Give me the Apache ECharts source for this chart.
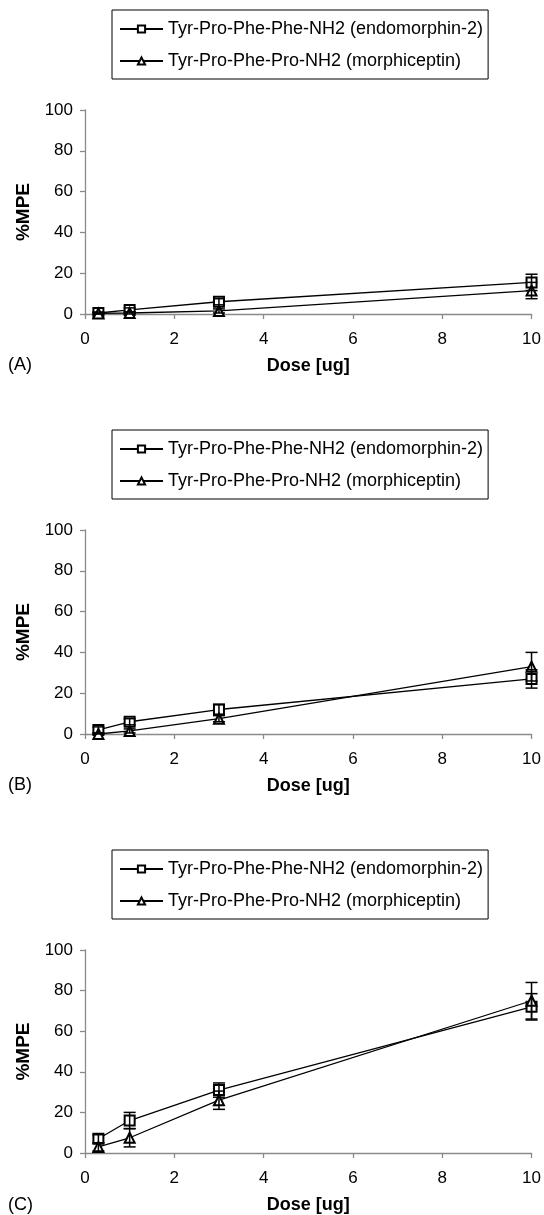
<!DOCTYPE html>
<html>
<head>
<meta charset="utf-8">
<script src="https://cdn.jsdelivr.net/npm/echarts@6/dist/echarts.min.js"></script>
<style>
  html, body { margin: 0; padding: 0; background: #fff; }
  #chart { width: 544px; height: 1215px; }
</style>
</head>
<body>
<div id="chart"></div>
<script>
// doses (x) shared by every panel
const doses = [0.3, 1, 3, 10]
const xTicks = [0, 2, 4, 6, 8, 10]
const yTicks = [0, 20, 40, 60, 80, 100]
const seriesNames = ['Tyr-Pro-Phe-Phe-NH2 (endomorphin-2)', 'Tyr-Pro-Phe-Pro-NH2 (morphiceptin)']
const panelLabels = ['(A)', '(B)', '(C)']

// panel A
const endoA = [0.5, 2, 6, 15.5]
const endoAErr = [0.5, 1, 1.5, 4]
const morphA = [0.3, 0.5, 1.5, 11.5]
const morphAErr = [0.3, 0.5, 1, 4]
// panel B
const endoB = [2, 6, 12, 27]
const endoBErr = [1.5, 1.5, 2.5, 4.5]
const morphB = [0, 1.5, 7.5, 33]
const morphBErr = [0.5, 1, 1.5, 7]
// panel C
const endoC = [7, 16, 31, 72]
const endoCErr = [2, 4, 3.5, 6.5]
const morphC = [3, 7.5, 26, 75]
const morphCErr = [2, 4.5, 4.5, 9]

const panels = [
  { endo: endoA, endoErr: endoAErr, morph: morphA, morphErr: morphAErr },
  { endo: endoB, endoErr: endoBErr, morph: morphB, morphErr: morphBErr },
  { endo: endoC, endoErr: endoCErr, morph: morphC, morphErr: morphCErr }
]

const font = 'Liberation Sans, Arial, sans-serif'
const axisGray = '#8a8a8a'
const step = 420 // vertical offset between panels

function errorBars(vals, errs, idx) {
  return {
    type: 'custom',
    xAxisIndex: idx,
    yAxisIndex: idx,
    z: 4,
    silent: true,
    data: doses.map((d, i) => [d, vals[i], errs[i]]),
    renderItem(params, api) {
      const x = api.value(0)
      const y = api.value(1)
      const e = api.value(2)
      const top = api.coord([x, y + e])
      const bot = api.coord([x, Math.max(y - e, 0)])
      const hw = 6
      const style = { stroke: '#000', lineWidth: 1.5 }
      return {
        type: 'group',
        children: [
          { type: 'line', shape: { x1: top[0], y1: top[1], x2: bot[0], y2: bot[1] }, style },
          { type: 'line', shape: { x1: top[0] - hw, y1: top[1], x2: top[0] + hw, y2: top[1] }, style },
          { type: 'line', shape: { x1: bot[0] - hw, y1: bot[1], x2: bot[0] + hw, y2: bot[1] }, style }
        ]
      }
    }
  }
}

const grid = []
const xAxis = []
const yAxis = []
const legend = []
const series = []
const graphic = []

panels.forEach((p, idx) => {
  const off = idx * step
  grid.push({ left: 85, width: 447, top: 110 + off, height: 204 })
  xAxis.push({
    gridIndex: idx,
    type: 'value',
    min: xTicks[0],
    max: xTicks[xTicks.length - 1],
    interval: 2,
    name: 'Dose [ug]',
    nameLocation: 'middle',
    nameGap: 43,
    nameTextStyle: { fontFamily: font, fontSize: 18, fontWeight: 'bold', color: '#000' },
    axisLine: { lineStyle: { color: axisGray, width: 1.3 } },
    axisTick: { length: 5, lineStyle: { color: axisGray, width: 1.3 } },
    axisLabel: { margin: 17, fontFamily: font, fontSize: 17, color: '#000' },
    splitLine: { show: false }
  })
  yAxis.push({
    gridIndex: idx,
    type: 'value',
    min: yTicks[0],
    max: yTicks[yTicks.length - 1],
    interval: 20,
    name: '%MPE',
    nameLocation: 'middle',
    nameGap: 51,
    nameTextStyle: { fontFamily: font, fontSize: 19, fontWeight: 'bold', color: '#000' },
    axisLine: { show: true, lineStyle: { color: axisGray, width: 1.3 } },
    axisTick: { show: true, length: 5, lineStyle: { color: axisGray, width: 1.3 } },
    axisLabel: { margin: 12, fontFamily: font, fontSize: 17, color: '#000' },
    splitLine: { show: false }
  })
  legend.push({
    data: seriesNames,
    orient: 'vertical',
    left: 112,
    top: 10 + off,
    padding: [10, 5, 9, 7],
    itemGap: 14,
    itemWidth: 43,
    itemHeight: 9,
    borderColor: '#000',
    borderWidth: 1,
    selectedMode: false,
    textStyle: { fontFamily: font, fontSize: 18, color: '#000' }
  })
  series.push({
    name: seriesNames[0],
    type: 'line',
    xAxisIndex: idx,
    yAxisIndex: idx,
    data: doses.map((d, i) => [d, p.endo[i]]),
    symbol: 'emptyRect',
    symbolSize: 10,
    color: '#000',
    lineStyle: { color: '#000', width: 1.3 },
    z: 3
  })
  series.push({
    name: seriesNames[1],
    type: 'line',
    xAxisIndex: idx,
    yAxisIndex: idx,
    data: doses.map((d, i) => [d, p.morph[i]]),
    symbol: 'emptyTriangle',
    symbolSize: 10,
    color: '#000',
    lineStyle: { color: '#000', width: 1.3 },
    z: 3
  })
  series.push(errorBars(p.endo, p.endoErr, idx))
  series.push(errorBars(p.morph, p.morphErr, idx))
  graphic.push({
    type: 'text',
    left: 8,
    top: 356 + off,
    style: { text: panelLabels[idx], font: '18px ' + font, fill: '#000' }
  })
})

const chart = echarts.init(document.getElementById('chart'))
chart.setOption({
  animation: false,
  backgroundColor: '#fff',
  grid,
  xAxis,
  yAxis,
  legend,
  series,
  graphic
})
</script>
</body>
</html>
